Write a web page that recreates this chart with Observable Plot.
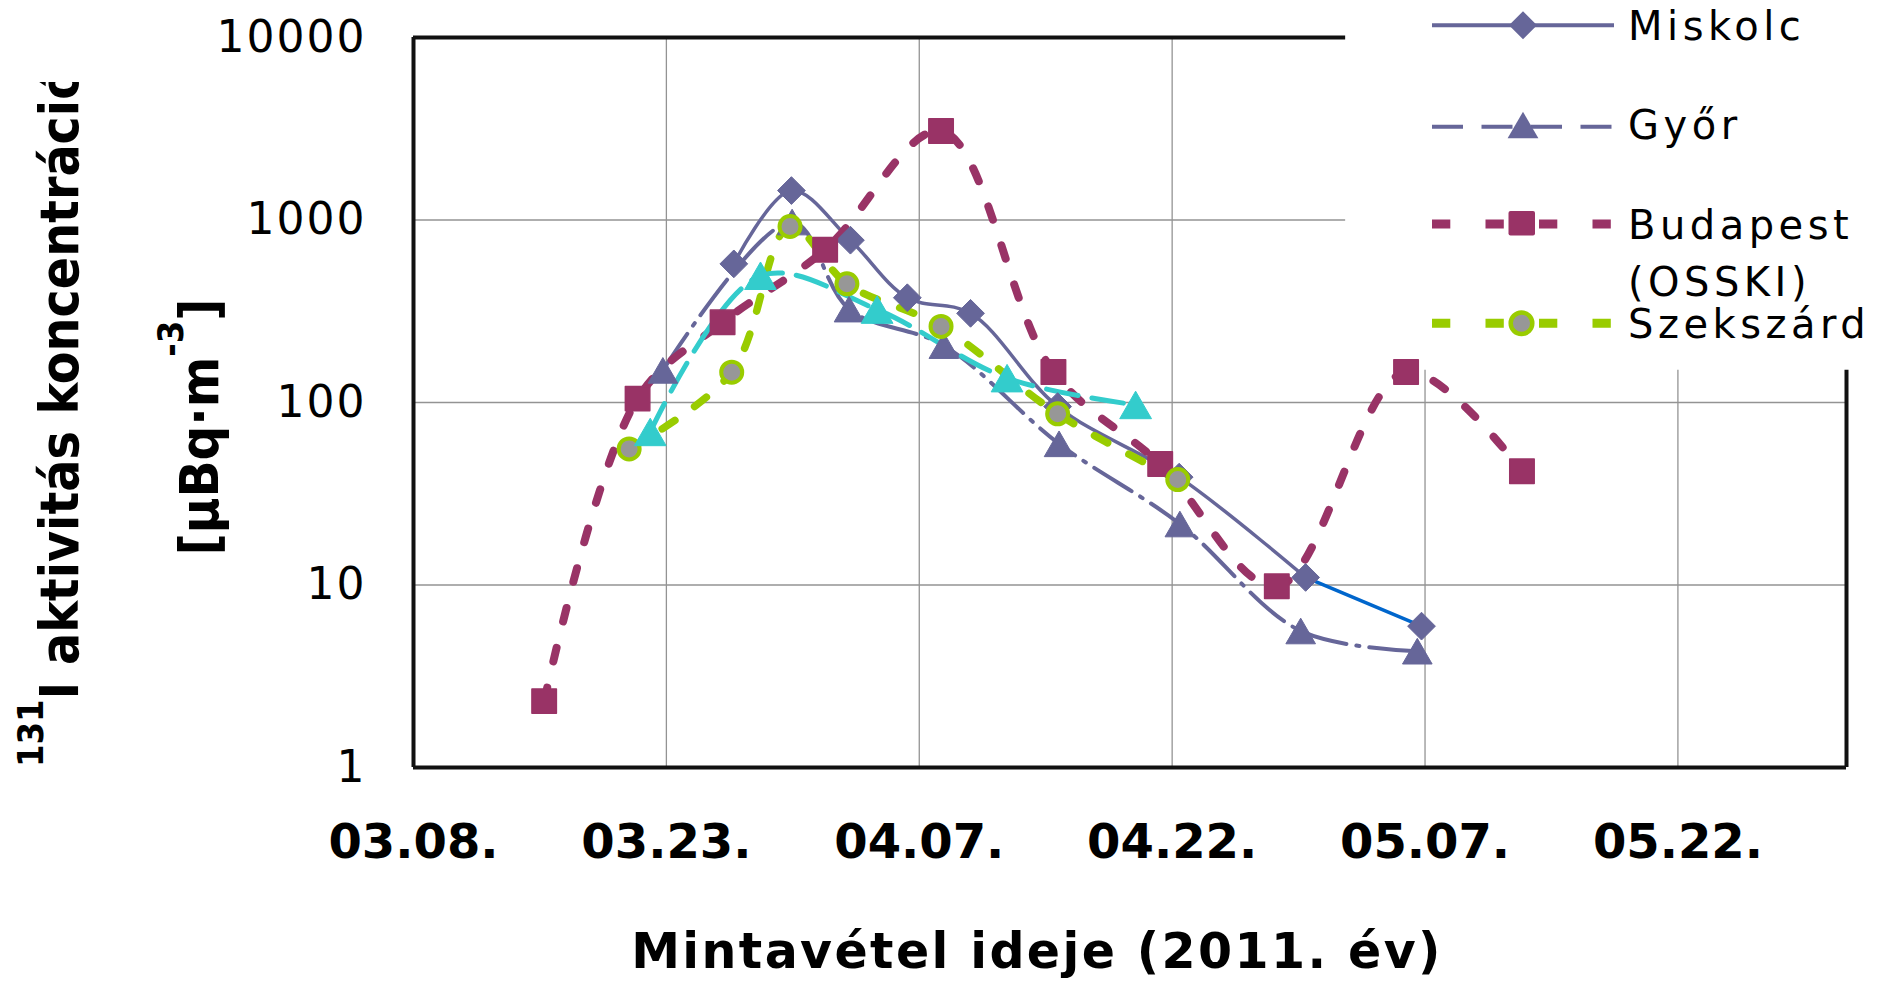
<!DOCTYPE html>
<html>
<head>
<meta charset="utf-8">
<script src="https://cdn.jsdelivr.net/npm/d3@7"></script>
<script src="https://cdn.jsdelivr.net/npm/@observablehq/plot@0.6"></script>
<style>
  html, body { margin: 0; padding: 0; background: #fff; }
  #chart { position: relative; width: 1883px; height: 982px; overflow: hidden; }
</style>
</head>
<body>
<div id="chart"></div>
<script>
// I-131 activity concentration in air, spring 2011 (µBq/m³), by sampling site.
const miskolcDates  = ["2011-03-27T00:00Z", "2011-03-30T10:00Z", "2011-04-02T22:00Z", "2011-04-06T07:00Z", "2011-04-10T01:00Z", "2011-04-15T05:00Z", "2011-04-22T10:00Z", "2011-04-29T22:00Z", "2011-05-06T19:00Z"];
const miskolcValues = [575, 1450, 775, 375, 308, 95, 39, 11, 5.95];

const gyorDates  = ["2011-03-22T19:00Z", "2011-03-30T11:00Z", "2011-04-02T20:00Z", "2011-04-08T11:00Z", "2011-04-15T07:00Z", "2011-04-22T11:00Z", "2011-04-29T15:00Z", "2011-05-06T13:00Z"];
const gyorValues = [150, 975, 325, 205, 59.4, 21.6, 5.6, 4.34];

const budapestDates  = ["2011-03-15T18:00Z", "2011-03-21T07:00Z", "2011-03-26T08:00Z", "2011-04-01T10:00Z", "2011-04-08T07:00Z", "2011-04-14T23:00Z", "2011-04-21T07:00Z", "2011-04-28T05:00Z", "2011-05-05T21:00Z", "2011-05-12T18:00Z"];
const budapestValues = [2.31, 105, 275, 687, 3070, 147, 46, 9.85, 147, 42];

const szekszardDates  = ["2011-03-20T19:00Z", "2011-03-26T21:00Z", "2011-03-30T08:00Z", "2011-04-02T17:00Z", "2011-04-08T07:00Z", "2011-04-15T05:00Z", "2011-04-22T08:00Z"];
const szekszardValues = [55.7, 146.6, 921, 447, 261, 86.7, 37.8];

// fifth station series (not listed in the legend)
const extraDates  = ["2011-03-22T01:00Z", "2011-03-28T14:00Z", "2011-04-04T12:00Z", "2011-04-12T05:00Z", "2011-04-19T20:00Z"];
const extraValues = [69, 495, 323, 136, 97];

const seriesNames = ["Miskolc", "Győr", "Budapest", "(OSSKI)", "Szekszárd"];
const xTickDates = ["2011-03-08", "2011-03-23", "2011-04-07", "2011-04-22", "2011-05-07", "2011-05-22"];
const yTicks = [1, 10, 100, 1000, 10000];
const xTitle = "Mintavétel ideje (2011. év)";

const rows = (dates, values) => dates.map((d, i) => ({date: new Date(d), value: values[i]}));
const miskolc = rows(miskolcDates, miskolcValues);
const gyor = rows(gyorDates, gyorValues);
const budapest = rows(budapestDates, budapestValues);
const szekszard = rows(szekszardDates, szekszardValues);
const extra = rows(extraDates, extraValues);
const xTicks = xTickDates.map(d => new Date(d + "T00:00Z"));

const start = new Date("2011-03-08T00:00Z");
const end = new Date("2011-06-01T00:00Z");
// the legend box sits over the top-right corner; grid and frame stop at its edge
const legendEdgeDate = new Date("2011-05-02T07:00Z");
const legendEdgeValue = 150;

const C = {
  slate: "#666699",
  plum: "#993366",
  lime: "#99cc00",
  teal: "#33cccc",
  blue: "#0066cc",
  grey: "#979797",
  grid: "#939393"
};
const curve = "catmull-rom";
const frame = {stroke: "#111", strokeWidth: 4};

const svg = Plot.plot({
  width: 1883,
  height: 982,
  marginLeft: 413,
  marginRight: 37,
  marginTop: 37,
  marginBottom: 215,
  style: {fontFamily: "'DejaVu Sans', sans-serif", background: "#fff", color: "#000", overflow: "visible"},
  x: {type: "utc", domain: [start, end]},
  y: {type: "log", domain: [1, 10000]},
  marks: [
    // grid
    Plot.ruleX(xTicks.slice(1), {y1: () => 1, y2: d => d >= legendEdgeDate ? legendEdgeValue : 10000, stroke: C.grid, strokeWidth: 1.3}),
    Plot.ruleY(yTicks.slice(1, -1), {x1: () => start, x2: d => d >= 1000 ? legendEdgeDate : end, stroke: C.grid, strokeWidth: 1.3}),
    // plot-area frame
    Plot.ruleY([10000], {x1: () => start, x2: () => legendEdgeDate, ...frame}),
    Plot.ruleY([1], {x1: () => start, x2: () => end, ...frame}),
    Plot.ruleX([start], {y1: () => 1, y2: () => 10000, ...frame}),
    Plot.ruleX([end], {y1: () => 1, y2: () => legendEdgeValue, ...frame}),

    // lines
    Plot.line(miskolc.slice(0, -1), {x: "date", y: "value", stroke: C.slate, strokeWidth: 3.5, curve}),
    Plot.line(miskolc.slice(-2), {x: "date", y: "value", stroke: C.blue, strokeWidth: 3.5, curve}),
    Plot.line(gyor, {x: "date", y: "value", stroke: C.slate, strokeWidth: 4, strokeDasharray: "44,10,3,10", curve}),
    Plot.line(budapest, {x: "date", y: "value", stroke: C.plum, strokeWidth: 8, strokeDasharray: "14,27", curve}),
    Plot.line(szekszard, {x: "date", y: "value", stroke: C.lime, strokeWidth: 7.5, strokeDasharray: "15,24", curve}),
    Plot.line(extra, {x: "date", y: "value", stroke: C.teal, strokeWidth: 5, strokeDasharray: "32,14", curve}),

    // markers
    Plot.dot(miskolc, {x: "date", y: "value", symbol: "diamond2", r: 12.5, fill: C.slate, stroke: C.slate, strokeWidth: 1}),
    Plot.dot(gyor, {x: "date", y: "value", symbol: "triangle", r: 11, dy: 4.3, fill: C.slate, stroke: C.slate, strokeWidth: 1}),
    Plot.dot(budapest, {x: "date", y: "value", symbol: "square", r: 13.8, fill: C.plum, stroke: C.plum, strokeWidth: 1.5, strokeLinejoin: "round"}),
    Plot.dot(szekszard, {x: "date", y: "value", symbol: "circle", r: 10.5, fill: C.grey, stroke: C.lime, strokeWidth: 4}),
    Plot.dot(extra, {x: "date", y: "value", symbol: "triangle", r: 11.8, dy: 4.6, fill: C.teal, stroke: C.teal, strokeWidth: 1}),

    // axes
    Plot.axisY({ticks: yTicks, tickFormat: d => String(d), tickSize: 0, tickPadding: 47, fontSize: 44, label: null}),
    Plot.axisX({ticks: xTicks, tickFormat: d3.utcFormat("%m.%d."), tickSize: 0, tickPadding: 56, fontSize: 48, fontWeight: "bold", label: null})
  ]
});

document.getElementById("chart").appendChild(svg);

const root = d3.select(svg);
root.selectAll('g[aria-label="y-axis tick label"] text').attr("letter-spacing", 2);

// x-axis title
root.append("text")
  .attr("x", 1037).attr("y", 968)
  .attr("text-anchor", "middle")
  .attr("font-family", "'DejaVu Sans', sans-serif")
  .attr("font-weight", "bold")
  .attr("font-size", 49)
  .attr("letter-spacing", 2.4)
  .attr("fill", "#000")
  .text(xTitle);

// y-axis title (two rotated lines; the first is cut by its box at the top)
root.append("clipPath").attr("id", "ytitle-clip")
  .append("rect").attr("x", 0).attr("y", 82).attr("width", 400).attr("height", 900);
const yt1 = root.append("g").attr("clip-path", "url(#ytitle-clip)")
  .append("text")
  .attr("transform", "translate(78,767) rotate(-90) scale(0.9,1)")
  .attr("text-anchor", "start")
  .attr("font-family", "'DejaVu Sans', sans-serif")
  .attr("font-weight", "bold")
  .attr("font-size", 53)
  .attr("fill", "#000");
yt1.append("tspan").attr("font-size", 36).attr("dy", -35).text("131");
yt1.append("tspan").attr("dy", 35).text("I aktivitás koncentráció");

const yt2 = root.append("text")
  .attr("transform", "translate(218,427) rotate(-90) scale(0.9,1)")
  .attr("text-anchor", "middle")
  .attr("font-family", "'DejaVu Sans', sans-serif")
  .attr("font-weight", "bold")
  .attr("font-size", 54)
  .attr("fill", "#000");
yt2.append("tspan").text("[µBq·m");
yt2.append("tspan").attr("font-size", 36).attr("dy", -35).text("-3");
yt2.append("tspan").attr("dy", 35).text("]");

// legend
const lg = root.append("g")
  .attr("font-family", "'DejaVu Sans', sans-serif")
  .attr("font-size", 40)
  .attr("letter-spacing", 4.5)
  .attr("text-anchor", "start");
const sample = {x0: 1432, x1: 1614, cx: 1523};
function legendLine(y, color, width, dash) {
  lg.append("line").attr("x1", sample.x0).attr("x2", sample.x1).attr("y1", y).attr("y2", y)
    .attr("stroke", color).attr("stroke-width", width).attr("stroke-dasharray", dash || null);
}
function legendText(y, text) {
  lg.append("text").attr("x", 1628).attr("y", y).attr("fill", "#000").attr("text-anchor", "start").text(text);
}
// Miskolc
legendLine(25.3, C.slate, 4, null);
lg.append("path").attr("d", "M0,-14L14,0L0,14L-14,0Z").attr("transform", `translate(${sample.cx},25.3)`).attr("fill", C.slate);
legendText(39.5, seriesNames[0]);
// Győr
legendLine(126.7, C.slate, 4, "31,18.5");
lg.append("path").attr("d", "M0,-13.3L15.4,13.3L-15.4,13.3Z").attr("transform", `translate(${sample.cx},125)`).attr("fill", C.slate);
legendText(138.5, seriesNames[1]);
// Budapest (OSSKI)
legendLine(224, C.plum, 9, "18.3,35.2");
lg.append("rect").attr("x", sample.cx - 14.5).attr("y", 211).attr("width", 26.5).attr("height", 24.5).attr("rx", 2).attr("fill", C.plum);
legendText(238.5, seriesNames[2]);
legendText(295.5, seriesNames[3]);
// Szekszárd
legendLine(323.3, C.lime, 9, "18.3,35.2");
lg.append("circle").attr("cx", sample.cx - 1.5).attr("cy", 323.3).attr("r", 10.8).attr("fill", C.grey).attr("stroke", C.lime).attr("stroke-width", 4.5);
legendText(337.5, seriesNames[4]);
</script>
</body>
</html>
